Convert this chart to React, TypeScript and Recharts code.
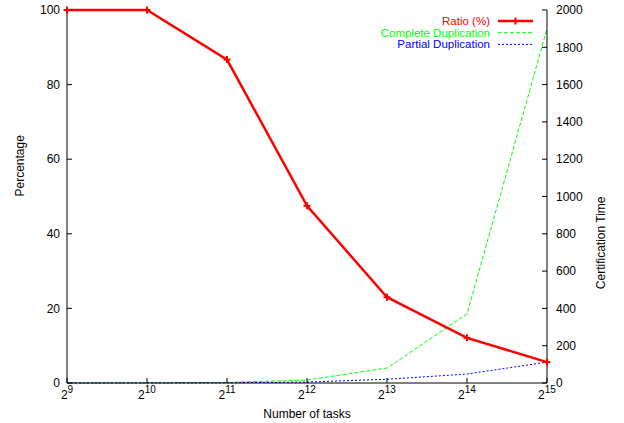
import React from 'react';
import { LineChart, Line, XAxis, YAxis } from 'recharts';

// number of tasks as powers of two (exponent)
const taskExponents = [9, 10, 11, 12, 13, 14, 15];
const ratioPct = [100, 100, 86.7, 47.5, 23, 12.1, 5.6];
const completeDup = [0, 1, 3, 16, 80, 370, 1900];
const partialDup = [0, 0.5, 1, 5, 20, 48, 112];

const leftTicks = [0, 20, 40, 60, 80, 100];
const rightTicks = [0, 200, 400, 600, 800, 1000, 1200, 1400, 1600, 1800, 2000];

const FONT = '"Liberation Sans", Arial, sans-serif';

const data = taskExponents.map((e, i) => ({
  exp: e,
  ratio: ratioPct[i],
  complete: completeDup[i],
  partial: partialDup[i],
}));

const PowerTick = (props: any) => {
  const { x, y, payload } = props;
  return (
    <text x={x} y={y + 16} textAnchor="middle" fontFamily={FONT} fontSize={12} fill="#000">
      <tspan>2</tspan>
      <tspan dy={-6} fontSize={10}>{payload.value}</tspan>
    </text>
  );
};

const PlusDot = (props: any) => {
  const { cx, cy } = props;
  if (cx == null || cy == null) return null;
  return (
    <g stroke="#ff0000" strokeWidth={2}>
      <line x1={cx - 3.5} y1={cy} x2={cx + 3.5} y2={cy} />
      <line x1={cx} y1={cy - 3.5} x2={cx} y2={cy + 3.5} />
    </g>
  );
};

const legendRows = [
  { label: 'Ratio (%)', color: '#ff0000', width: 2.5, dash: undefined, marker: true },
  { label: 'Complete Duplication', color: '#00ff00', width: 1, dash: '4 2', marker: false },
  { label: 'Partial Duplication', color: '#0000ff', width: 1, dash: '2 2', marker: false },
];

const ChartLegend = () => (
  <svg width={180} height={44} style={{ position: 'absolute', left: 372, top: 12 }}>
    {legendRows.map((r, i) => {
      const y = 9 + i * 11.7;
      return (
        <g key={r.label}>
          <text x={118} y={y + 4} textAnchor="end" fontFamily={FONT} fontSize={11.5} fill={r.color}>
            {r.label}
          </text>
          <line x1={126} y1={y} x2={161} y2={y} stroke={r.color} strokeWidth={r.width} strokeDasharray={r.dash} />
          {r.marker && <PlusDot cx={143.5} cy={y} />}
        </g>
      );
    })}
  </svg>
);

export default function App() {
  return (
    <div style={{ position: 'absolute', left: 0, top: 0, width: 624, height: 423, background: '#fff' }}>
      <LineChart width={624} height={423} data={data} margin={{ top: 10, right: 0, left: 0, bottom: 0 }}>
        <XAxis
          dataKey="exp"
          type="number"
          domain={[9, 15]}
          ticks={taskExponents}
          height={40}
          stroke="#000"
          tickSize={-5}
          tickMargin={5}
          tick={<PowerTick />}
          label={{ value: 'Number of tasks', position: 'insideBottom', offset: 5, fontFamily: FONT, fontSize: 12, fill: '#000' }}
        />
        <YAxis
          yAxisId="left"
          domain={[0, 100]}
          ticks={leftTicks}
          width={67}
          stroke="#000"
          tickSize={-5}
          tickMargin={12}
          tick={{ fontFamily: FONT, fontSize: 12, fill: '#000' }}
          label={{ value: 'Percentage', angle: -90, position: 'insideLeft', offset: 20, fontFamily: FONT, fontSize: 12, fill: '#000' }}
        />
        <YAxis
          yAxisId="right"
          orientation="right"
          domain={[0, 2000]}
          ticks={rightTicks}
          width={77}
          stroke="#000"
          tickSize={-5}
          tickMargin={14}
          tick={{ fontFamily: FONT, fontSize: 12, fill: '#000' }}
          label={{ value: 'Certification Time', angle: -90, position: 'insideRight', offset: 23, fontFamily: FONT, fontSize: 12, fill: '#000' }}
        />
        <Line
          yAxisId="right"
          dataKey="complete"
          stroke="#00ff00"
          strokeWidth={1}
          strokeDasharray="4 2"
          dot={false}
          isAnimationActive={false}
        />
        <Line
          yAxisId="right"
          dataKey="partial"
          stroke="#0000ff"
          strokeWidth={1}
          strokeDasharray="2 2"
          dot={false}
          isAnimationActive={false}
        />
        <Line
          yAxisId="left"
          dataKey="ratio"
          stroke="#ff0000"
          strokeWidth={2.5}
          dot={<PlusDot />}
          isAnimationActive={false}
        />
      </LineChart>
      <ChartLegend />
    </div>
  );
}
